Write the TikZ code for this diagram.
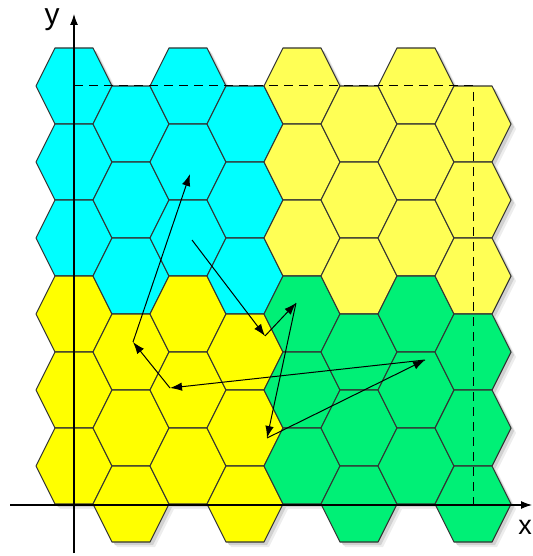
\documentclass[tikz,border=0pt]{standalone}
\usepackage{fontspec}
\setmainfont{Liberation Sans}
\usetikzlibrary{arrows.meta}
\definecolor{hcyan}{RGB}{0,255,255}
\definecolor{hyellow}{RGB}{255,255,0}
\definecolor{hyellowb}{RGB}{255,255,85}
\definecolor{hgreen}{RGB}{0,240,118}
\newcommand\myhex{(-38,0) -- (-19,-38) -- (19,-38) -- (38,0) -- (19,38) -- (-19,38) -- cycle}
\begin{document}
\begin{tikzpicture}[x=1pt,y=-1pt,
  hexcell/.style={draw=black!80,line width=1.1pt,line join=round},
  walk/.style={line width=1pt,-{Latex[length=12pt,width=8.5pt]}},
  axis/.style={line width=1.1pt,-{Latex[length=11pt,width=8pt]}},
  guide/.style={line width=1pt,dash pattern=on 9pt off 6pt},
  lab/.style={inner sep=0pt}]
\useasboundingbox (0,0) rectangle (532,556);
% shadows
\foreach \c in {0,...,7} {
  \pgfmathsetmacro\cx{74+57*\c}
  \pgfmathsetmacro\cy{ifthenelse(mod(\c,2)==0,86,124)}
  \foreach \k in {0,...,5} {
    \pgfmathsetmacro\yy{\cy+76*\k}
    \fill[black!7,shift={(\cx+5,\yy+5)}] \myhex;
  }
}
\foreach \c in {0,...,7} {
  \pgfmathsetmacro\cx{74+57*\c}
  \pgfmathsetmacro\cy{ifthenelse(mod(\c,2)==0,86,124)}
  \foreach \k in {0,...,5} {
    \pgfmathsetmacro\yy{\cy+76*\k}
    \fill[black!18,shift={(\cx+3,\yy+3)}] \myhex;
  }
}
% cells
\foreach \c in {0,...,7} {
  \pgfmathsetmacro\cx{74+57*\c}
  \pgfmathsetmacro\cy{ifthenelse(mod(\c,2)==0,86,124)}
  \foreach \k in {0,...,5} {
    \pgfmathsetmacro\yy{\cy+76*\k}
    \ifnum\c<4
      \ifnum\k<3 \def\col{hcyan}\else\def\col{hyellow}\fi
    \else
      \ifnum\k<3 \def\col{hyellowb}\else\def\col{hgreen}\fi
    \fi
    \filldraw[hexcell,fill=\col,shift={(\cx,\yy)}] \myhex;
  }
}
% guides
\coordinate (g0) at (74,86);
\coordinate (g1) at (473,86);
\coordinate (g2) at (473,505);
\draw[guide] (g0) -- (g1) -- (g2);
% axes
\coordinate (xs) at (10,505);
\coordinate (xe) at (532,505);
\coordinate (ys) at (74,553);
\coordinate (ye) at (74,14);
\draw[axis] (xs) -- (xe);
\draw[axis] (ys) -- (ye);
\node[lab,font=\fontsize{30}{30}\selectfont] (ylab) at (52,20) {y};
\node[lab,font=\fontsize{27}{27}\selectfont] (xlab) at (525,527) {x};
% walk
\coordinate (p0) at (192,240);
\coordinate (p1) at (265,336);
\coordinate (p2) at (296,303);
\coordinate (p3) at (267,438);
\coordinate (p4) at (425,360);
\coordinate (p5) at (170,388);
\coordinate (p6) at (133,342);
\coordinate (p7) at (190,174);
\draw[walk] (p0) -- (p1);
\draw[walk] (p1) -- (p2);
\draw[walk] (p2) -- (p3);
\draw[walk] (p3) -- (p4);
\draw[walk] (p4) -- (p5);
\draw[walk] (p5) -- (p6);
\draw[walk] (p6) -- (p7);
\end{tikzpicture}
\end{document}
